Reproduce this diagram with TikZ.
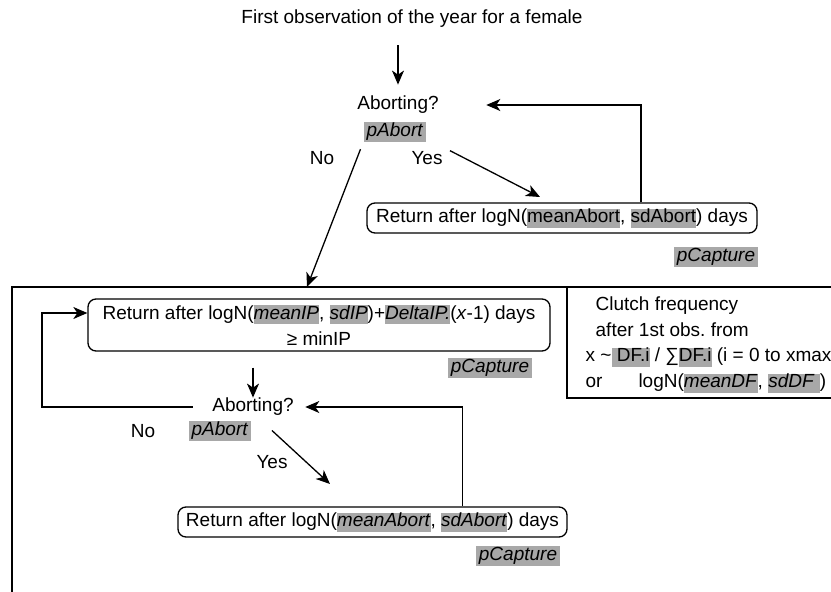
\documentclass[tikz,border=0pt]{standalone}
\usepackage{fontspec}
\setmainfont{Liberation Sans}
\usepackage{tikz}
\usetikzlibrary{arrows.meta, calc, positioning}
\definecolor{grau}{HTML}{A8A8A8}
\newcommand{\hgrau}[1]{{\setlength{\fboxsep}{0pt}\colorbox{grau}{\rule[-5pt]{0pt}{19pt}#1}}}
\frenchspacing

\begin{document}
\begin{tikzpicture}[x=1pt, y=-1pt, line width=1.3pt,
    every node/.style={font=\fontsize{19}{26}\selectfont, inner sep=0pt},
    zeile/.style={text height=13.5pt, text depth=4pt},
    pfeil/.style={-{Stealth[length=14pt, width=12pt, inset=4pt]}},
    rbox/.style={draw, rounded corners=8pt, minimum height=30pt},
    grauf/.style={fill=grau, inner xsep=3pt, inner ysep=0.5pt, text height=14pt, text depth=5pt}]
      \useasboundingbox (0,0) rectangle (831,592);
      % first observation
      \node[zeile] (titel) at (412,19) {First observation of the year for a female};
      \node[zeile] (ab1) at (398,105) {Aborting?};
      \node[grauf] (pab1) at (395,132) {\textit{pAbort}};
      \node[zeile] (nein1) at (322,160) {No};
      \node[zeile] (ja1) at (427,160) {Yes};
      \node[rbox, minimum width=390pt] (ret1) at (562,218)
        {Return after logN(\hgrau{meanAbort}, \hgrau{sdAbort}) days};
      \node[grauf] (pc1) at (716,257) {\textit{pCapture}};
      \coordinate (ein) at (307,287);
      \coordinate (ja1end) at (540,197);
      \draw[pfeil, shorten <=17pt, shorten >=11pt] (titel.south -| ab1.north) -- (ab1.north);
      \draw[pfeil, shorten <=7pt] (pab1.south west) -- (ein);
      \draw[pfeil] ([xshift=23pt, yshift=-8pt]pab1.south east) -- (ja1end);
      \draw[pfeil] ([xshift=79pt]ret1.north) |- ([xshift=47pt]ab1.east);
      % outer frame
      \draw (12,592) |- (831,287);
      % clutch frequency
      \draw (831,287) -| (567,398) -- (831,398);
      \node[anchor=north west, align=left, inner xsep=18pt, inner ysep=9pt,
            font=\fontsize{19}{25.7}\selectfont] (clutch) at (567,287)
        {\hspace*{10pt}Clutch frequency\\
         \hspace*{10pt}after 1st obs. from\\
         x \textasciitilde\hgrau{ DF.i} / ∑\hgrau{DF.i} (i = 0 to xmax\\
         or\hspace{36pt}logN(\hgrau{\textit{meanDF}}, \hgrau{\textit{sdDF }})};
      % following clutches
      \node[rbox, align=center, minimum width=462pt, minimum height=52pt] (ipbox) at (319,325)
        {Return after logN(\hgrau{\textit{meanIP}}, \hgrau{\textit{sdIP}})+\hgrau{\textit{DeltaIP.}}(\textit{x}-1) days\\
         ≥ minIP};
      \node[grauf] (pc2) at (490,367.5) {\textit{pCapture}};
      \node[zeile] (ab2) at (253,407) {Aborting?};
      \node[grauf] (pab2) at (220,430.5) {\textit{pAbort}};
      \node[zeile] (nein2) at (143,433) {No};
      \node[zeile] (ja2) at (272,464) {Yes};
      \node[rbox, minimum width=389pt] (ret2) at (372.5,522)
        {Return after logN(\hgrau{\textit{meanAbort}}, \hgrau{\textit{sdAbort}}) days};
      \node[grauf] (pc3) at (518,556) {\textit{pCapture}};
      \coordinate (schleife) at (42,313);
      \coordinate (ja2end) at (330,484);
      \draw[pfeil, shorten <=16pt] (ipbox.south -| ab2.north) -- (ab2.north);
      \draw[pfeil] ([xshift=-19pt]ab2.west) -| (schleife) -- (schleife -| ipbox.west);
      \draw[pfeil] ([xshift=90pt]ret2.north) |- ([xshift=11pt]ab2.east);
      \draw[pfeil] ([xshift=20pt]pab2.east) -- (ja2end);
\end{tikzpicture}
\end{document}
